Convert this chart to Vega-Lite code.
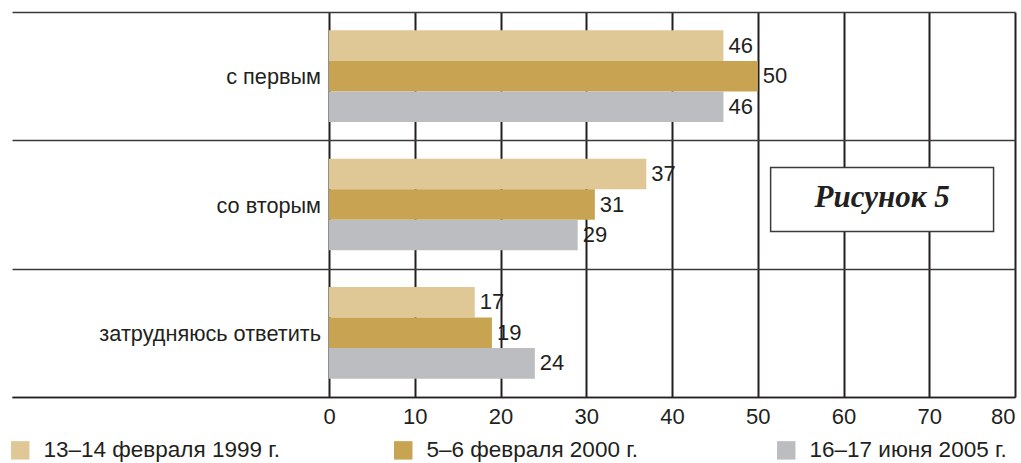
{
  "$schema": "https://vega.github.io/schema/vega-lite/v6.json",
  "autosize": "none",
  "width": 1003,
  "height": 385,
  "padding": {"left": 12, "top": 12, "right": 6, "bottom": 66},
  "background": "white",
  "config": {
    "view": {"stroke": null},
    "font": "Liberation Sans",
    "text": {"font": "Liberation Sans"}
  },
  "datasets": {
    "bars": [
      {"answer": "с первым", "period": "13–14 февраля 1999 г.", "value": 46},
      {"answer": "с первым", "period": "5–6 февраля 2000 г.", "value": 50},
      {"answer": "с первым", "period": "16–17 июня 2005 г.", "value": 46},
      {"answer": "со вторым", "period": "13–14 февраля 1999 г.", "value": 37},
      {"answer": "со вторым", "period": "5–6 февраля 2000 г.", "value": 31},
      {"answer": "со вторым", "period": "16–17 июня 2005 г.", "value": 29},
      {"answer": "затрудняюсь ответить", "period": "13–14 февраля 1999 г.", "value": 17},
      {"answer": "затрудняюсь ответить", "period": "5–6 февраля 2000 г.", "value": 19},
      {"answer": "затрудняюсь ответить", "period": "16–17 июня 2005 г.", "value": 24}
    ],
    "cats": [
      {"answer": "с первым"},
      {"answer": "со вторым"},
      {"answer": "затрудняюсь ответить"}
    ],
    "note": [
      {"answer": "со вторым", "x1": 51.5, "x2": 77.5, "xm": 64.5, "label": "Рисунок 5"}
    ]
  },
  "encoding": {
    "y": {
      "field": "answer",
      "type": "nominal",
      "sort": ["с первым", "со вторым", "затрудняюсь ответить"],
      "scale": {"paddingInner": 0, "paddingOuter": 0},
      "axis": {
        "title": null,
        "labels": false,
        "ticks": false,
        "domain": false,
        "grid": true,
        "tickBand": "extent",
        "gridColor": "#3a3a3a",
        "gridWidth": 1.5
      }
    }
  },
  "layer": [
    {
      "data": {"name": "cats"},
      "mark": {"type": "text", "align": "right", "baseline": "middle", "dx": -8, "dy": 1, "fontSize": 21.7, "color": "#231f20"},
      "encoding": {
        "x": {
          "datum": 0,
          "type": "quantitative",
          "scale": {"domain": [-36.97, 80], "nice": false, "zero": false},
          "axis": {
            "values": [0, 10, 20, 30, 40, 50, 60, 70, 80],
            "title": null,
            "grid": true,
            "gridColor": "#231f20",
            "gridWidth": 2,
            "ticks": false,
            "domain": true,
            "domainColor": "#231f20",
            "domainWidth": 1.5,
            "labelFontSize": 22,
            "labelColor": "#231f20",
            "labelPadding": 9,
            "labelFont": "Liberation Sans"
          }
        },
        "text": {"field": "answer"}
      }
    },
    {
      "data": {"name": "bars"},
      "mark": {"type": "bar"},
      "encoding": {
        "x": {"field": "value", "type": "quantitative"},
        "yOffset": {
          "field": "period",
          "type": "nominal",
          "sort": ["13–14 февраля 1999 г.", "5–6 февраля 2000 г.", "16–17 июня 2005 г."],
          "scale": {"paddingOuter": 0.6, "paddingInner": 0}
        },
        "color": {
          "field": "period",
          "type": "nominal",
          "sort": ["13–14 февраля 1999 г.", "5–6 февраля 2000 г.", "16–17 июня 2005 г."],
          "scale": {"range": ["#E0C896", "#C8A452", "#BCBDC1"]},
          "legend": {
            "title": null,
            "orient": "none",
            "legendX": -3,
            "legendY": 427,
            "direction": "horizontal",
            "columns": 3,
            "gridAlign": "all",
            "columnPadding": 112,
            "symbolType": "square",
            "symbolSize": 340,
            "symbolStrokeWidth": 0,
            "labelFontSize": 22.5,
            "labelFont": "Liberation Sans",
            "labelColor": "#231f20",
            "labelOffset": 12,
            "labelLimit": 400
          }
        }
      }
    },
    {
      "data": {"name": "bars"},
      "mark": {"type": "text", "align": "left", "baseline": "middle", "dx": 5, "fontSize": 22, "color": "#231f20"},
      "encoding": {
        "x": {"field": "value", "type": "quantitative"},
        "yOffset": {
          "field": "period",
          "type": "nominal",
          "sort": ["13–14 февраля 1999 г.", "5–6 февраля 2000 г.", "16–17 июня 2005 г."]
        },
        "text": {"field": "value"}
      }
    },
    {
      "data": {"name": "note"},
      "mark": {"type": "bar", "height": 64, "yOffset": -5, "fill": "white", "stroke": "#3a3a3a", "strokeWidth": 1.5},
      "encoding": {
        "x": {"field": "x1", "type": "quantitative"},
        "x2": {"field": "x2"}
      }
    },
    {
      "data": {"name": "note"},
      "mark": {"type": "text", "align": "center", "baseline": "middle", "dy": -7, "font": "Liberation Serif", "fontStyle": "italic", "fontWeight": "bold", "fontSize": 31, "color": "#231f20"},
      "encoding": {
        "x": {"field": "xm", "type": "quantitative"},
        "text": {"field": "label"}
      }
    }
  ]
}
